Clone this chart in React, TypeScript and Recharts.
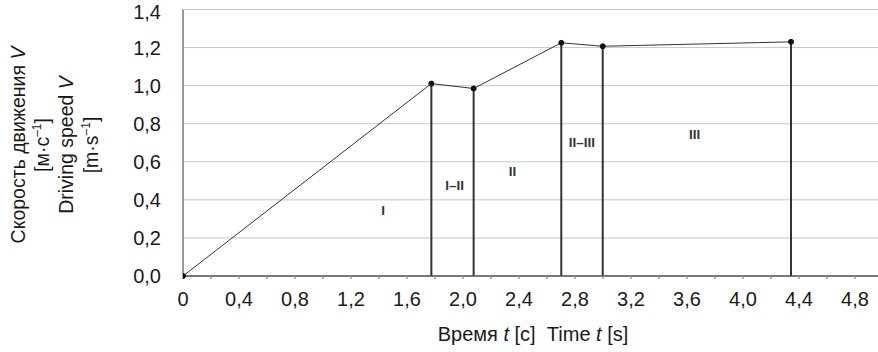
import { ComposedChart, Line, Scatter, XAxis, YAxis, CartesianGrid, ReferenceLine } from 'recharts';

const times = [0, 1.774, 2.076, 2.702, 2.998, 4.343];
const speeds = [0, 1.011, 0.985, 1.225, 1.207, 1.23];

const zoneNames = ['I', 'I–II', 'II', 'II–III', 'III'];
const zoneTimes = [1.43, 1.94, 2.354, 2.85, 3.654];
const zoneSpeeds = [0.345, 0.477, 0.552, 0.704, 0.745];

const xTicks = [0, 0.2, 0.4, 0.6, 0.8, 1.0, 1.2, 1.4, 1.6, 1.8, 2.0, 2.2, 2.4, 2.6, 2.8, 3.0, 3.2, 3.4, 3.6, 3.8, 4.0, 4.2, 4.4, 4.6, 4.8];
const yTicks = [0, 0.2, 0.4, 0.6, 0.8, 1.0, 1.2, 1.4];

const FONT = '"Liberation Sans", Arial, sans-serif';
const TXT = '#1a1a1a';

const speedData = times.map((t, i) => ({ t, v: speeds[i] }));
const zoneData = zoneNames.map((name, i) => ({ t: zoneTimes[i], v: zoneSpeeds[i], name }));

const comma = (v: number) => (v === 0 ? '0' : v.toFixed(1).replace('.', ','));

function XTick({ x, y, payload }: any) {
  const v = payload.value;
  if (Math.round(v * 10) % 4 !== 0) return null;
  return <text x={x} y={y} dy="0.71em" textAnchor="middle" fontSize={20} fontFamily={FONT} fill={TXT}>{comma(v)}</text>;
}

function ZoneLabel({ cx, cy, payload }: any) {
  return <text x={cx} y={cy} dy="0.35em" textAnchor="middle" fontSize={13.5} fontWeight="bold" fontFamily={FONT} fill="#333">{payload.name}</text>;
}

function YTitle() {
  const cy = 145;
  const rot = (bx: number) => `translate(${bx},${cy}) rotate(-90)`;
  return (
    <g fontFamily={FONT} fill={TXT} fontSize={19.5}>
      <text transform={rot(24.5)} textAnchor="middle">Скорость движения <tspan fontStyle="italic">V</tspan></text>
      <text transform={rot(49)} textAnchor="middle">[м·с<tspan dy={-8} fontSize={12}>–1</tspan><tspan dy={8}>]</tspan></text>
      <text transform={rot(73.3)} textAnchor="middle">Driving speed <tspan fontStyle="italic">V</tspan></text>
      <text transform={rot(97.7)} textAnchor="middle">[m·s<tspan dy={-8} fontSize={12}>–1</tspan><tspan dy={8}>]</tspan></text>
    </g>
  );
}

function XTitle() {
  return (
    <text x={533} y={341} textAnchor="middle" fontFamily={FONT} fontSize={20} fill={TXT}>
      Время <tspan fontStyle="italic">t</tspan> [c]{'\u00a0\u00a0'}Time <tspan fontStyle="italic">t</tspan> [s]
    </text>
  );
}

export default function App() {
  return (
    <div style={{ position: 'absolute', left: 0, top: 0, width: 878, height: 352, overflow: 'hidden', background: '#fff' }}>
      <ComposedChart width={890} height={352} margin={{ top: 9.5, right: 7, left: 0, bottom: 16 }}>
        <CartesianGrid vertical={false} stroke="#c8c8c8" />
        <XAxis
          dataKey="t"
          type="number"
          domain={[0, 5]}
          ticks={xTicks}
          interval={0}
          height={60}
          tickSize={3}
          tickMargin={13}
          tick={<XTick />}
          stroke="#555"
          strokeWidth={1.5}
          tickLine={{ stroke: '#999' }}
          allowDataOverflow
          label={{ content: () => <XTitle /> }}
        />
        <YAxis
          type="number"
          domain={[0, 1.4]}
          ticks={yTicks}
          width={183}
          tickSize={0}
          tickMargin={22}
          tickFormatter={(v: number) => v.toFixed(1).replace('.', ',')}
          tick={{ fontSize: 20, fontFamily: FONT, fill: TXT }}
          stroke="#999"
          strokeWidth={2}
          tickLine={false}
          label={{ content: () => <YTitle /> }}
        />
        {times.slice(1).map((t, i) => (
          <ReferenceLine
            key={t}
            segment={[{ x: t, y: 0 }, { x: t, y: speeds[i + 1] }]}
            stroke="#333"
            strokeWidth={2}
          />
        ))}
        <Line
          data={speedData}
          dataKey="v"
          type="linear"
          stroke="#333"
          strokeWidth={1}
          dot={{ r: 2.5, fill: '#111', stroke: '#111' }}
          isAnimationActive={false}
        />
        <Scatter data={zoneData} dataKey="v" shape={<ZoneLabel />} isAnimationActive={false} />
      </ComposedChart>
    </div>
  );
}
